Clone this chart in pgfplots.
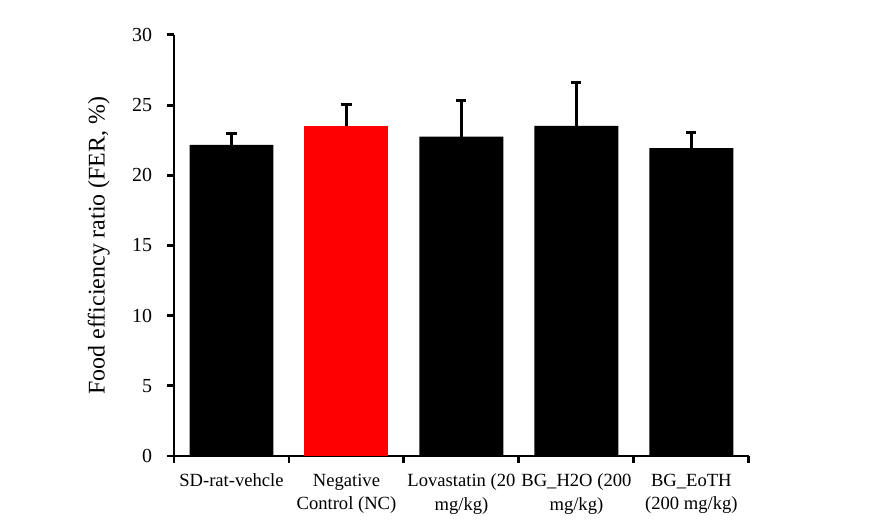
\documentclass[border=0pt]{standalone}
\usepackage{fontspec}
\setmainfont{Liberation Serif}
\usepackage{pgfplots}
\pgfplotsset{compat=1.18}

\begin{document}
\begin{tikzpicture}[x=1cm,y=1cm]
% page the size of the reference, 1px = 0.02646cm
\path[use as bounding box] (-4.604,-1.905) rectangle (18.733,12.065);
\begin{axis}[
  at={(0,0)}, anchor=origin,
  scale only axis,
  width=15.21cm, height=11.14cm,
  axis lines*=left,
  axis line style={line width=2.2pt},
  xmin=0.5, xmax=5.5,
  ymin=0, ymax=30,
  ytick={0,5,...,30},
  xtick={1,...,5},
  xticklabels={SD-rat-vehcle, Negative\\Control (NC), Lovastatin (20\\mg/kg), BG\_H2O (200\\mg/kg), BG\_EoTH\\(200 mg/kg)},
  minor xtick={0.5,1.5,...,5.5},
  major x tick style={draw=none},
  tick align=outside,
  tick style={line width=2.2pt, black},
  major tick length=5pt,
  minor tick length=5pt,
  xticklabel style={align=center, font=\fontsize{14}{17.5}\selectfont, yshift=-5pt},
  yticklabel style={font=\fontsize{15}{17}\selectfont, xshift=-8pt},
  /pgf/number format/assume math mode=true,
  ylabel={Food efficiency ratio (FER, \%)},
  ylabel style={font=\fontsize{18}{20}\selectfont, yshift=10pt},
  ybar,
  bar width=0.73,
  bar shift=0pt,
]
\addplot[fill=black, draw=none, bar shift=0pt,
  error bars/.cd, y dir=plus, y explicit,
  error bar style={line width=2.2pt, black},
  error mark options={rotate=90, mark size=3.8pt, line width=2.2pt, black}]
  coordinates {
  (1,22.17) +- (0,0.80)
  (3,22.76) +- (0,2.55)
  (4,23.52) +- (0,3.10)
  (5,21.93) +- (0,1.15)
};
\addplot[fill=red, draw=none, bar shift=0pt,
  error bars/.cd, y dir=plus, y explicit,
  error bar style={line width=2.2pt, black},
  error mark options={rotate=90, mark size=3.8pt, line width=2.2pt, black}]
  coordinates {
  (2,23.52) +- (0,1.52)
};
\end{axis}
\end{tikzpicture}
\end{document}
